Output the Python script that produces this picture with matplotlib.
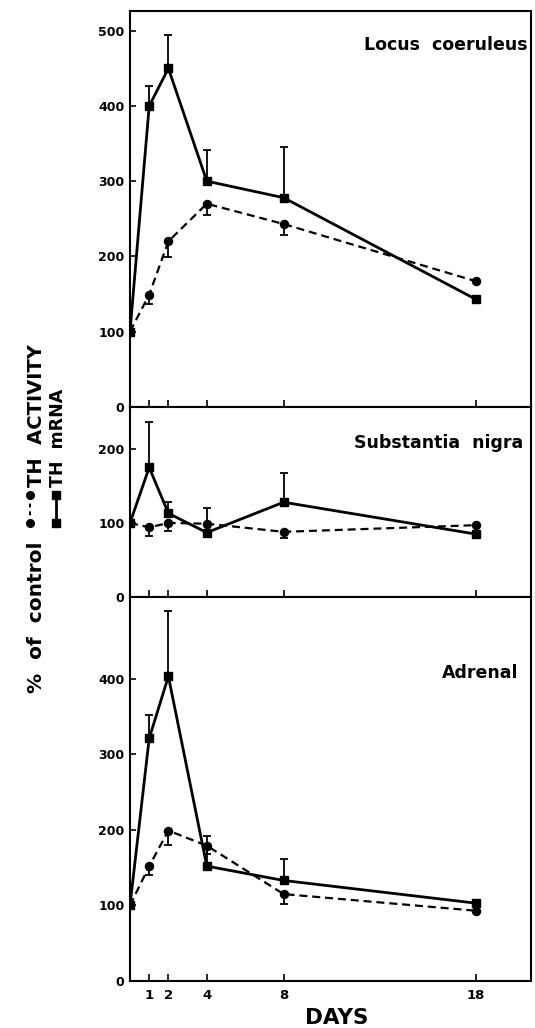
import numpy as np
import matplotlib
matplotlib.use('Agg')
import matplotlib.pyplot as plt
from matplotlib.lines import Line2D

# ---------------- data ----------------
days = [0, 1, 2, 4, 8, 18]
xtick_days = [1, 2, 4, 8, 18]

lc_mrna = [100, 400, 450, 300, 278, 143]
lc_mrna_err = [0, 27, 44, 42, 67, 0]
lc_act = [100, 149, 220, 270, 243, 167]
lc_act_err = [0, 12, 21, 15, 15, 0]

sn_mrna = [100, 175, 113, 87, 128, 85]
sn_mrna_err = [0, 62, 15, 33, 40, 0]
sn_act = [100, 94, 100, 99, 88, 97]
sn_act_err = [0, 11, 11, 0, 8, 0]

ad_mrna = [100, 321, 403, 152, 133, 103]
ad_mrna_err = [0, 31, 87, 40, 28, 0]
ad_act = [100, 152, 199, 179, 115, 93]
ad_act_err = [0, 12, 19, 11, 13, 0]

panel_titles = ['Locus  coeruleus', 'Substantia  nigra', 'Adrenal']
yticks_lc = [0, 100, 200, 300, 400, 500]
yticks_sn = [0, 100, 200]
yticks_ad = [0, 100, 200, 300, 400]

# ---------------- style ----------------
plt.rcParams['font.family'] = ['DejaVu Sans']
plt.rcParams['font.weight'] = 'bold'

W, H = 535, 1028
fig = plt.figure(figsize=(W / 100, H / 100), dpi=100)

LEFT, RIGHT = 130, 531


def rect(top_px, bot_px):
    return [LEFT / W, 1 - bot_px / H, (RIGHT - LEFT) / W, (bot_px - top_px) / H]


ax_lc = fig.add_axes(rect(10.5, 406.7))
ax_sn = fig.add_axes(rect(406.7, 597))
ax_ad = fig.add_axes(rect(597, 981))

panels = [
    (ax_lc, lc_mrna, lc_mrna_err, lc_act, lc_act_err, yticks_lc, 527, panel_titles[0], (0.9925, 0.913)),
    (ax_sn, sn_mrna, sn_mrna_err, sn_act, sn_act_err, yticks_sn, 257, panel_titles[1], (0.98, 0.807)),
    (ax_ad, ad_mrna, ad_mrna_err, ad_act, ad_act_err, yticks_ad, 508, panel_titles[2], (0.9676, 0.803)),
]

xmax = (RIGHT - LEFT) / 19.2


def draw_err(ax, y, e, upper):
    x = np.array(days, dtype=float)
    y = np.array(y, dtype=float)
    e = np.array(e, dtype=float)
    m = e > 0
    zero = np.zeros(m.sum())
    yerr = [zero, e[m]] if upper else [e[m], zero]
    ax.errorbar(x[m], y[m], yerr=yerr, fmt='none', ecolor='black',
                elinewidth=1.3, capsize=2.6, capthick=1.3, zorder=2)


for i, (ax, mr, mre, ac, ace, yt, ytop, title, tpos) in enumerate(panels):
    draw_err(ax, ac, ace, upper=False)
    draw_err(ax, mr, mre, upper=True)
    ax.plot(days, ac, color='black', lw=1.6, ls=(0, (3.6, 2.2)),
            marker='o', ms=5.8, zorder=3)
    ax.plot(days, mr, color='black', lw=2.0, ls='-',
            marker='s', ms=6.2, zorder=4)
    ax.set_xlim(0, xmax)
    ax.set_ylim(0, ytop)
    ax.set_yticks(yt)
    ax.set_yticklabels([str(v) for v in yt])
    ax.set_xticks(xtick_days)
    ax.tick_params(axis='y', direction='in', length=4, width=1.2, pad=4,
                   labelsize=9)
    ax.tick_params(axis='x', direction='in', length=5, width=1.2, pad=6,
                   labelsize=9.5, labelbottom=(i == 2))
    for lab in ax.get_yticklabels() + ax.get_xticklabels():
        lab.set_fontweight('bold')
    for sp in ax.spines.values():
        sp.set_linewidth(1.5)
    ax.text(tpos[0], tpos[1], title, transform=ax.transAxes, ha='right',
            va='center', fontsize=12.5, fontweight='bold')

ax_ad.set_xticklabels([str(d) for d in xtick_days])

# x label
fig.text(337 / W, 1 - 1018.5 / H, 'DAYS', ha='center', va='center',
         fontsize=15.5, fontweight='bold')

# y label with inline legend
fig.text(42 / W, 1 - 693 / H, '%  of  control', rotation=90,
         rotation_mode='anchor', ha='left', va='baseline',
         fontsize=14.5, fontweight='bold')
fig.text(42 / W, 1 - 487 / H, 'TH  ACTIVITY', rotation=90,
         rotation_mode='anchor', ha='left', va='baseline',
         fontsize=14, fontweight='bold')
fig.text(63 / W, 1 - 487 / H, 'TH  mRNA', rotation=90,
         rotation_mode='anchor', ha='left', va='baseline',
         fontsize=12.5, fontweight='bold')

fig.add_artist(Line2D([30 / W, 30 / W], [1 - 523 / H, 1 - 495 / H],
                      transform=fig.transFigure, color='black', lw=1.4,
                      ls=(0, (2, 2)), marker='o', ms=5.5))
fig.add_artist(Line2D([56 / W, 56 / W], [1 - 523 / H, 1 - 495 / H],
                      transform=fig.transFigure, color='black', lw=2.0,
                      ls='-', marker='s', ms=6))

fig.savefig('out.png', dpi=100)
